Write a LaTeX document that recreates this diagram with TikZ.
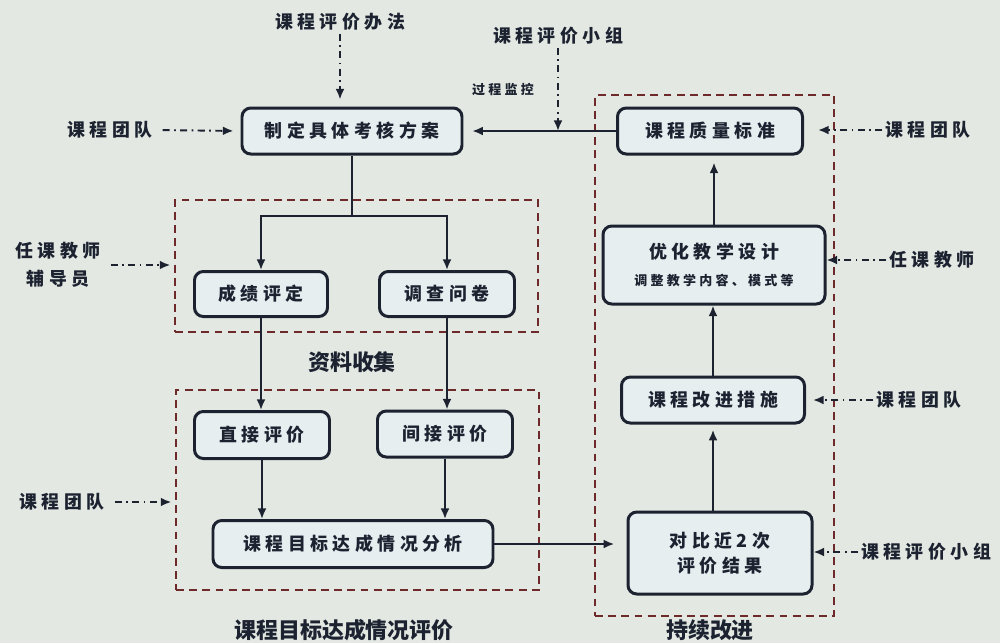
\documentclass[tikz,border=0pt]{standalone}
\usepackage{fontspec}
\setmainfont{Noto Sans CJK SC}
\newfontfamily\cjkwide{Noto Sans CJK SC}[LetterSpace=25]
\usepackage{tikz}
\usetikzlibrary{calc,arrows.meta}
\definecolor{bg}{HTML}{E3E9E2}
\definecolor{boxbg}{HTML}{E7EEF0}
\definecolor{ink}{HTML}{1C2230}
\definecolor{frame}{HTML}{6E2A2A}
\tikzset{
  box/.style={draw=ink, fill=boxbg, line width=1.7pt, rounded corners=5pt, inner sep=0pt,
    align=center, text=ink, font=\cjkwide\bfseries\fontsize{10.2}{14}\selectfont},
  group/.style={draw=frame, line width=1.3pt, dash pattern=on 4.5pt off 3pt, inner sep=0pt},
  link/.style={draw=ink, line width=1.1pt},
  arr/.style={link, -{Latex[length=6pt,width=5pt]}},
  dasharr/.style={arr, dash pattern=on 4pt off 2.5pt on 1pt off 2.5pt},
  lab/.style={text=ink, align=center, inner sep=1.5pt, font=\cjkwide\bfseries\fontsize{10.2}{16}\selectfont},
  labs/.style={lab, font=\cjkwide\bfseries\fontsize{7.4}{9}\selectfont},
  title/.style={text=ink, font=\bfseries\fontsize{12.5}{14}\selectfont},
}

\begin{document}
\begin{tikzpicture}
  \useasboundingbox (0,0) rectangle (20,-12.86);
  \fill[bg] (0,0) rectangle (20,-12.86);

  % dashed groups
  \node[group, minimum width=7.26cm, minimum height=2.64cm] (collect) at (7.13,-5.32) {};
  \node[group, minimum width=7.26cm, minimum height=4.00cm] (evaluate) at (7.15,-9.80) {};
  \node[group, minimum width=4.78cm, minimum height=10.42cm] (improve) at (14.29,-7.11) {};
  \node[title] at (7.04,-7.24) {资料收集};
  \node[title] at (6.88,-12.60) {课程目标达成情况评价};
  \node[title] at (14.20,-12.60) {持续改进};

  % boxes
  \node[box, minimum width=4.40cm, minimum height=0.92cm] (plan) at (7.04,-2.62) {制定具体考核方案};
  \node[box, minimum width=2.66cm, minimum height=0.90cm] (grade) at (5.22,-5.88) {成绩评定};
  \node[box, minimum width=2.70cm, minimum height=0.90cm] (survey) at (8.94,-5.88) {调查问卷};
  \node[box, minimum width=2.70cm, minimum height=0.94cm] (direct) at (5.24,-8.70) {直接评价};
  \node[box, minimum width=2.70cm, minimum height=0.92cm] (indirect) at (8.90,-8.68) {间接评价};
  \node[box, minimum width=5.60cm, minimum height=0.94cm] (analysis) at (7.06,-10.88) {课程目标达成情况分析};
  \node[box, minimum width=3.70cm, minimum height=0.92cm] (standard) at (14.20,-2.62) {课程质量标准};
  \node[box, minimum width=4.44cm, minimum height=1.56cm] (design) at (14.28,-5.30)
    {优化教学设计\\[1pt]{\fontsize{7.4}{9}\selectfont 调整教学内容、模式等}};
  \node[box, minimum width=3.66cm, minimum height=0.92cm] (measure) at (14.26,-8.00) {课程改进措施};
  \node[box, minimum width=3.68cm, minimum height=1.64cm] (compare) at (14.40,-11.06) {对比近2次\\评价结果};

  % outside labels
  \node[lab] (method) at (6.80,-0.44) {课程评价办法};
  \node[lab] (evalgrp) at (11.16,-0.72) {课程评价小组};
  \node[labs] (monitor) at (10.06,-1.80) {过程监控};
  \node[lab] (team1) at (2.20,-2.60) {课程团队};
  \node[lab] (teacher) at (1.16,-5.30) {任课教师\\辅导员};
  \node[lab] (team2) at (1.24,-10.04) {课程团队};
  \node[lab] (rteam1) at (18.56,-2.60) {课程团队};
  \node[lab] (rteacher) at (18.64,-5.20) {任课教师};
  \node[lab] (rteam2) at (18.38,-8.00) {课程团队};
  \node[lab] (revalgrp) at (18.52,-11.04) {课程评价小组};

  % flow
  \coordinate (split) at (7.04,-4.32);
  \draw[link] (plan.south) -- (split);
  \draw[arr] (split) -| (grade.north);
  \draw[arr] (split) -| (survey.north);
  \draw[arr] (grade.south) -- (grade.south |- direct.north);
  \draw[arr] (survey.south) -- (survey.south |- indirect.north);
  \draw[arr] (direct.south) -- (direct.south |- analysis.north);
  \draw[arr] (indirect.south) -- (indirect.south |- analysis.north);
  \draw[arr, shorten >=7pt] (analysis.east) -- (analysis.east -| compare.west);
  \draw[arr, shorten >=3pt] (compare.north -| measure.south) -- (measure.south);
  \draw[arr] (measure.north) -- (measure.north |- design.south);
  \draw[arr, shorten >=4pt] (design.north) -- (design.north |- standard.south);
  \draw[arr, shorten >=5pt] (standard.west) -- (plan.east);

  % inputs
  \draw[dasharr, shorten >=4pt] (method.south) -- (method.south |- plan.north);
  \draw[dasharr] (evalgrp.south) -- (evalgrp.south |- plan.east);
  \draw[dasharr, shorten <=4pt, shorten >=4pt] (team1.east) -- (plan.west);
  \draw[dasharr, shorten <=4pt, shorten >=2pt] (teacher.east) -- (teacher.east -| collect.west);
  \draw[dasharr, shorten <=4pt, shorten >=2pt] (team2.east) -- (team2.east -| evaluate.west);
  \draw[dasharr, shorten >=8pt] (rteam1.west) -- (rteam1.west -| standard.east);
  \draw[dasharr] (rteacher.west) -- (rteacher.west -| design.east);
  \draw[dasharr, shorten >=4pt] (rteam2.west) -- (rteam2.west -| measure.east);
  \draw[dasharr] (revalgrp.west) -- (revalgrp.west -| compare.east);
\end{tikzpicture}
\end{document}
